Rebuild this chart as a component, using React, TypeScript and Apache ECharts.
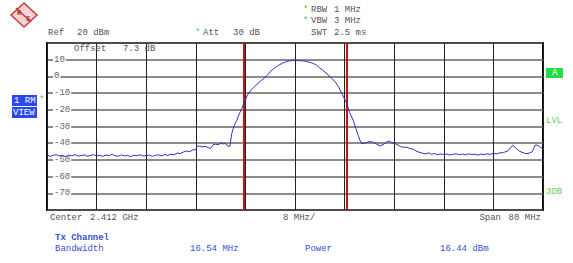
import React, { useEffect, useRef } from "react";
import * as echarts from "echarts";

// Frequency offset from center (MHz), center 2.412 GHz, span 80 MHz
const traceMHz = [
  -40, -39.5, -39, -38.5, -38, -37.5, -37, -36.5, -36, -35.5, -35, -34.5, -34, -33.5, -33, -32.5,
  -32, -31.5, -31, -30.5, -30, -29.5, -29, -28.5, -28, -27.5, -27, -26.5, -26, -25.5, -25, -24.5,
  -24, -23.5, -23, -22.5, -22, -21.5, -21, -20.5, -20, -19.5, -19, -18.5, -18, -17.5, -17, -16.5,
  -16, -15.8, -15.4, -15, -14.5, -14, -13.6, -13.2, -12.8, -12.4, -12, -11.6, -11.2, -10.8, -10.5,
  -10.2, -9.95, -9.7, -9.4, -9, -8.6, -8.2, -7.5, -7, -6.5, -6, -5.5, -5, -4.5, -4, -3.5, -3, -2.5,
  -2, -1.5, -1, -0.5, 0, 0.5, 1, 1.5, 2, 2.5, 3, 3.5, 4, 4.5, 5, 5.5, 6, 6.5, 7, 7.5, 8, 8.35, 8.8,
  9.4, 9.8, 10.2, 10.5, 10.8, 11.2, 11.6, 12, 12.4, 12.8, 13.2, 13.7, 14.2, 14.7, 15.1, 15.5, 16,
  16.4, 17, 17.5, 18, 18.5, 19, 19.5, 20, 20.5, 21, 21.5, 22, 22.5, 23, 23.5, 24, 24.5, 25, 25.5,
  26, 26.5, 27, 27.5, 28, 28.5, 29, 29.5, 30, 30.5, 31, 31.5, 32, 32.5, 33, 33.5, 34, 34.4, 34.8,
  35.1, 35.5, 36, 36.5, 37, 37.4, 37.8, 38.2, 38.5, 38.7, 39, 39.4, 39.7, 40,
];
const traceDbm = [
  -47.0, -47.9, -47.2, -46.9, -47.6, -47.3, -48.0, -47.1, -47.5, -46.8, -47.7, -47.4, -47.0, -47.8, -47.3, -46.9,
  -47.6, -47.2, -47.9, -47.1, -47.4, -46.7, -47.5, -47.8, -47.0, -47.6, -47.3, -48.1, -47.2, -47.5, -46.9, -47.7,
  -47.4, -47.1, -47.9, -47.2, -47.0, -47.6, -46.8, -47.3, -46.6, -46.9, -45.9, -46.2, -45.3, -44.7, -45.0, -44.1,
  -43.7, -41.9, -41.7, -42.2, -41.9, -42.6, -43.2, -40.9, -40.6, -40.9, -40.1, -40.4, -40.2, -41.9, -41.8,
  -34.3, -31, -28.5, -26.4, -22.5, -19.4, -15.5, -10, -7.9, -6, -4.3, -2.6, -1.1, 0.6, 2.9, 4.4, 5.8, 7.0,
  7.9, 8.7, 9.2, 9.5, 9.6, 9.5, 9.4, 9.2, 8.8, 8.3, 7.7, 6.6, 5.0, 3.6, 2.0, 0.4, -1.4, -3.3, -6.0, -9.9, -13.6, -16.2, -21.5,
  -26.4, -31, -35.3, -38.5, -40.3, -40.0, -39.6, -38.9, -39.3, -39.8, -40.6, -41.6, -40.9, -39.5, -38.7, -39.4, -40.1,
  -40.7, -41.9, -42.5, -42.4, -43.1, -43.5, -44.6, -45.4, -45.9, -46.4, -45.8, -46.6, -46.2, -46.9, -46.4, -46.8, -46.5, -47.1, -46.6,
  -46.3, -46.9, -46.5, -47.0, -46.4, -46.8, -46.6, -47.1, -46.5, -46.9, -46.3, -46.7, -46.1, -46.4, -45.8, -45.6, -45.1, -44.5, -42.6,
  -41.3, -42.4, -44.3, -45.3, -46.0, -46.3, -45.9, -45.3, -43.2, -41.3, -41.1, -41.9, -42.8, -43.9,
];
const channelMarkersMHz = [-8.27, 8.27];
const yTickHidden = [20, -80];

const MONO = "'Liberation Mono', 'DejaVu Sans Mono', monospace";
const GRAY = "#555";
const BLUE = "#3a4fd0";
const STAR = "#33cc33";

function t(text: string, x: number, y: number, fill = GRAY, extra: any = {}) {
  return {
    type: "text",
    x,
    y,
    style: { text, fill, font: `9px ${MONO}`, verticalAlign: "middle", ...extra },
    z: 10,
  };
}

export default function App() {
  const ref = useRef<HTMLDivElement>(null);
  useEffect(() => {
    if (!ref.current) return;
    const chart = echarts.init(ref.current, null, { renderer: "svg" });
    const data = traceMHz.map((f, i) => [f, traceDbm[i]]);
    chart.setOption({
      animation: false,
      backgroundColor: "#fff",
      grid: {
        left: 47,
        right: 30,
        top: 43,
        bottom: 53,
        show: true,
        borderColor: "#000",
        borderWidth: 2,
        backgroundColor: "transparent",
      },
      xAxis: {
        type: "value",
        min: -40,
        max: 40,
        interval: 8,
        axisLine: { show: false },
        axisTick: { show: false },
        axisLabel: { show: false },
        splitLine: { show: true, lineStyle: { color: "#222", width: 1 } },
      },
      yAxis: {
        type: "value",
        min: -80,
        max: 20,
        interval: 10,
        axisLine: { show: false },
        axisTick: { show: false },
        axisLabel: {
          inside: true,
          margin: 6,
          color: "#666",
          fontFamily: MONO,
          fontSize: 9,
          backgroundColor: "#fff",
          padding: [0, 1],
          formatter: (v: number) => (yTickHidden.includes(v) ? "" : String(v)),
        },
        splitLine: { show: true, lineStyle: { color: "#666", width: 1.5 } },
      },
      series: [
        {
          type: "line",
          data,
          showSymbol: false,
          lineStyle: { color: "#2a36b8", width: 1 },
          z: 5,
          markLine: {
            silent: true,
            symbol: "none",
            label: { show: false },
            lineStyle: { color: "#c81414", width: 2, type: "solid" },
            data: channelMarkersMHz.map((m) => ({ xAxis: m })),
            z: 4,
          },
        },
      ],
      graphic: [
        // logo
        {
          type: "polygon",
          shape: { points: [[24, 3], [37, 15], [24, 27], [11, 15]] },
          style: { fill: "#f6d2d2", stroke: "#c04040", lineWidth: 1.5 },
        },
        {
          type: "line",
          shape: { x1: 16, y1: 8, x2: 31, y2: 22 },
          style: { stroke: "#c04040", lineWidth: 1.5 },
        },
        { type: "text", x: 17, y: 13, style: { text: "R", fill: "#b03030", font: `bold 7px ${MONO}`, verticalAlign: "middle" } },
        { type: "text", x: 26, y: 19, style: { text: "S", fill: "#b03030", font: `bold 7px ${MONO}`, verticalAlign: "middle" } },
        // header
        t("Ref", 48, 33),
        t("20 dBm", 77, 33),
        t("*", 195, 33, STAR),
        t("Att", 203, 33),
        t("30 dB", 233, 33),
        t("*", 303, 10, STAR),
        t("RBW", 311, 10),
        t("1 MHz", 334, 10),
        t("*", 303, 21, STAR),
        t("VBW", 311, 21),
        t("3 MHz", 334, 21),
        t("SWT", 311, 33),
        t("2.5 ms", 334, 33),
        t("Offset", 74, 49),
        t("7.3 dB", 123, 49),
        // left trace box
        { type: "rect", shape: { x: 12, y: 95, width: 25, height: 11 }, style: { fill: "#2848f0" } },
        { type: "rect", shape: { x: 12, y: 107, width: 25, height: 11 }, style: { fill: "#2848f0" } },
        t("1 RM", 14, 100.5, "#fff"),
        t("VIEW", 13, 112.5, "#fff"),
        t("*", 39, 100, STAR),
        // right side
        { type: "rect", shape: { x: 546, y: 68, width: 17, height: 10 }, style: { fill: "#22dd44" } },
        t("A", 552, 73, "#fff"),
        t("LVL", 546, 121, "#66cc66"),
        t("3DB", 546, 192, "#66cc66"),
        // bottom
        t("Center", 50, 218),
        t("2.412 GHz", 90, 218),
        t("8 MHz/", 283, 218),
        t("Span", 501, 218, GRAY, { align: "right" }),
        t("80 MHz", 541, 218, GRAY, { align: "right" }),
        t("Tx Channel", 55, 238, BLUE, { font: `bold 9px ${MONO}` }),
        t("Bandwidth", 55, 249, BLUE),
        t("16.54 MHz", 190, 249, BLUE),
        t("Power", 305, 249, BLUE),
        t("16.44 dBm", 440, 249, BLUE),
      ],
    });
    return () => chart.dispose();
  }, []);
  return (
    <div
      ref={ref}
      style={{ position: "fixed", left: 0, top: 0, width: 573, height: 263 }}
    />
  );
}
